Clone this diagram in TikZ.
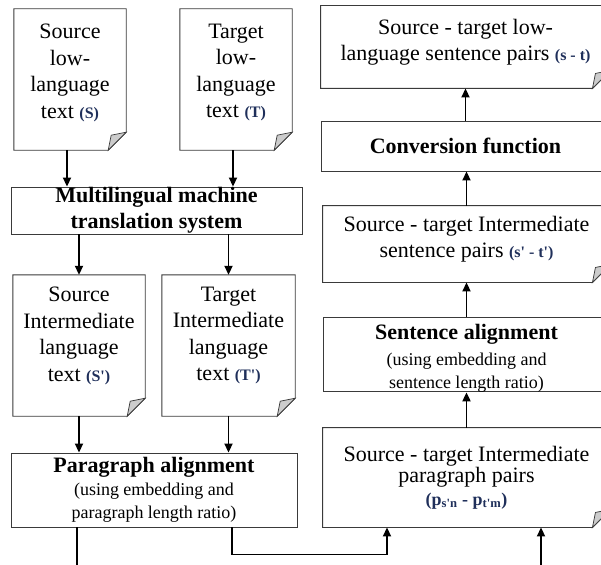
\documentclass[tikz,border=0pt]{standalone}
\usepackage{fontspec}
\setmainfont{Liberation Serif}[Ligatures=TeXOff]
\usetikzlibrary{arrows.meta,positioning}

\definecolor{lblblue}{HTML}{1F2F5A}
\definecolor{edgegray}{HTML}{3A3A3A}

\newcommand\lbl[1]{{\fontsize{16}{16}\selectfont\bfseries\color{lblblue}#1}}
\newcommand\subtxt{\fontsize{18}{23}\selectfont}

% page outline with a folded lower right corner
\newcommand\foldpage[1]{
	\draw[edgegray,line width=.9pt] (#1.north west) -- (#1.north east) -- ([yshift=18pt]#1.south east)
	-- ([xshift=-18pt]#1.south east) -- (#1.south west) -- cycle;
	\filldraw[draw=edgegray,fill=gray!40,line width=.7pt] ([xshift=-18pt]#1.south east)
	-- ([xshift=-15pt,yshift=15pt]#1.south east) -- ([yshift=18pt]#1.south east) -- cycle;
}

\tikzset{
	page/.style={inner sep=0pt,minimum height=141pt},
	doctext/.style={font=\fontsize{22}{26.5}\selectfont,align=center,inner sep=0pt},
	procbox/.style={draw=edgegray,line width=.9pt,inner sep=0pt,align=center,font=\fontsize{22}{26}\selectfont},
	flow/.style={line width=1.9pt,-{Triangle[length=9pt,width=8pt]}},
	flowline/.style={line width=1.9pt},
}

\begin{document}
\begin{tikzpicture}[x=1pt,y=-1pt]
	\useasboundingbox (0,0) rectangle (601,564);
	\clip (0,0) rectangle (601,564);
	
	% input documents
	\node[page,minimum width=112pt] (srcdoc) at (70,79.5) {};
	\node[doctext,below=15pt of srcdoc.north] (srctxt) {Source\\low-\\language\\text \lbl{(S)}};
	\node[page,minimum width=112pt] (tgtdoc) at (236,79.5) {};
	\node[doctext,below=15pt of tgtdoc.north] (tgttxt) {Target\\low-\\language\\text \lbl{(T)}};
	\foldpage{srcdoc}
	\foldpage{tgtdoc}
	
	\node[procbox,minimum width=291pt,minimum height=47pt] (mmt) at (156.5,210.5)
	{\bfseries Multilingual machine\\\bfseries translation system};
	
	% intermediate documents
	\node[page,minimum width=132pt] (srcint) at (79,345.5) {};
	\node[doctext,below=12pt of srcint.north] (srcinttxt) {Source\\Intermediate\\language\\text \lbl{(S')}};
	\node[page,minimum width=133pt] (tgtint) at (228.5,345.5) {};
	\node[doctext,below=12pt of tgtint.north] (tgtinttxt) {Target\\Intermediate\\language\\text \lbl{(T')}};
	\foldpage{srcint}
	\foldpage{tgtint}
	
	\node[procbox,minimum width=286pt,minimum height=74pt] (para) at (154,490)
	{\textbf{Paragraph alignment}\\[-3pt]\subtxt (using embedding and\\[-3pt]\subtxt paragraph length ratio)};
	
	% right column, bottom to top
	\node[procbox,draw=none,minimum width=287pt,minimum height=99pt] (pairp) at (466.5,477.5)
	{Source - target Intermediate\\[-5pt]paragraph pairs\\[-3pt]{\fontsize{18}{18}\selectfont\bfseries\color{lblblue}(p\textsubscript{s'n} - p\textsubscript{t'm})}};
	\foldpage{pairp}
	\node[procbox,minimum width=287pt,minimum height=73pt] (sentalign) at (466.5,354.5)
	{\\[-4pt]\textbf{Sentence alignment}\\[0pt]\subtxt (using embedding and\\[-3pt]\subtxt sentence length ratio)};
	\node[procbox,draw=none,minimum width=287pt,minimum height=76pt] (sentpairs) at (466.5,244)
	{Source - target Intermediate\\sentence pairs \lbl{(s' - t')}\\[-12pt]};
	\foldpage{sentpairs}
	\node[procbox,minimum width=289pt,minimum height=50pt] (conv) at (465.5,146)
	{\bfseries Conversion function};
	\node[procbox,draw=none,minimum width=289pt,minimum height=82pt] (lowpairs) at (465.5,47)
	{Source - target low-\\language sentence pairs \lbl{(s - t)}\\[-12pt]};
	\foldpage{lowpairs}
	
	\coordinate (paraout) at (77,570);
	\coordinate (pairin) at (541,570);
	
	\draw[flow] ([xshift=-3pt]srcdoc.south) -- ([xshift=-3pt]srcdoc.south |- mmt.north);
	\draw[flow] ([xshift=-3pt]tgtdoc.south) -- ([xshift=-3pt]tgtdoc.south |- mmt.north);
	\draw[flow] (srcint.north |- mmt.south) -- (srcint.north);
	\draw[flow] (tgtint.north |- mmt.south) -- (tgtint.north);
	\draw[flow] (srcint.south) -- (srcint.south |- para.north);
	\draw[flow] (tgtint.south) -- (tgtint.south |- para.north);
	\draw[flowline] (para.south -| paraout) -- (paraout);
	\draw[flow] ([xshift=78pt]para.south) -- ++(0,27) -| ([xshift=-79.5pt]pairp.south);
	\draw[flow] (pairin) -- (pairin |- pairp.south);
	\foreach \from/\to in {pairp/sentalign,sentalign/sentpairs,sentpairs/conv,conv/lowpairs}{
		\draw[flow] (\from.north) -- (\from.north |- \to.south);
	}
\end{tikzpicture}
\end{document}
